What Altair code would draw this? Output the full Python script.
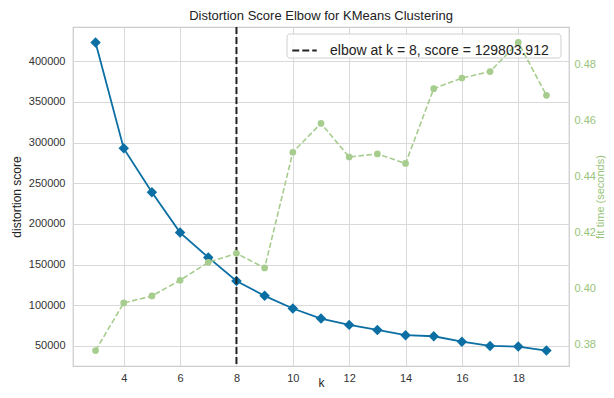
import altair as alt
import pandas as pd

k_values = list(range(3, 20))
distortion = [423000, 292800, 238900, 189300, 158800, 129803.912, 111600, 96000,
              83600, 75900, 69700, 63200, 61900, 55300, 50000, 49200, 44300]
fit_time = [0.3779, 0.3949, 0.3974, 0.4030, 0.4094, 0.4126, 0.4074, 0.4487,
            0.4590, 0.4470, 0.4481, 0.4447, 0.4714, 0.4752, 0.4775, 0.4879, 0.4690]
elbow_k = 8
elbow_score = 129803.912
x_ticks = [4, 6, 8, 10, 12, 14, 16, 18]
left_ticks = [50000, 100000, 150000, 200000, 250000, 300000, 350000, 400000]
right_ticks = [0.38, 0.40, 0.42, 0.44, 0.46, 0.48]

df = pd.DataFrame({"k": k_values, "distortion": distortion, "fit": fit_time})
label = f"elbow at k = {elbow_k}, score = {elbow_score:.3f}"
elbow_df = pd.DataFrame({"k": [elbow_k], "label": [label]})


def margin(vals, m=0.05):
    lo, hi = min(vals), max(vals)
    r = hi - lo
    return [lo - m * r, hi + m * r]


FONT = "Liberation Sans"
BLUE = "#0b6fa4"
GREEN = "#a6cd8d"
GREEN_TXT = "#98c47a"

xscale = alt.Scale(domain=margin(k_values), nice=False, zero=False)
x_axis = alt.Axis(values=x_ticks, title="k", grid=True, gridColor="#d9d9d9",
                  gridWidth=1, domain=False, ticks=False, labelPadding=6,
                  labelFontSize=11, labelFont=FONT, labelColor="#333333",
                  titleFont=FONT, titleFontSize=12, titleFontWeight="normal",
                  titleColor="#222222", titleY=20, titleBaseline="alphabetic")
left_scale = alt.Scale(domain=margin(distortion), nice=False, zero=False)
left_axis = alt.Axis(values=left_ticks, format="d", title="distortion score",
                     grid=True, gridColor="#d9d9d9", gridWidth=1, domain=False,
                     ticks=False, labelPadding=8, labelFontSize=11, labelFont=FONT,
                     labelColor="#333333", titleFont=FONT, titleFontSize=12,
                     titleFontWeight="normal", titleColor="#222222", titlePadding=5)
right_scale = alt.Scale(domain=margin(fit_time), nice=False, zero=False)
right_axis = alt.Axis(orient="right", values=right_ticks, format=".2f",
                      title="fit time (seconds)", grid=False, domain=False,
                      ticks=False, labelPadding=5, labelFontSize=11, labelFont=FONT,
                      labelColor=GREEN_TXT, titleFont=FONT, titleFontSize=11,
                      titleFontWeight="normal", titleColor=GREEN_TXT,
                      titleAngle=270, titleX=31, titleY=169.5,
                      titleAlign="center", titleBaseline="middle")

base = alt.Chart(df)

dist_line = base.mark_line(color=BLUE, strokeWidth=1.8).encode(
    x=alt.X("k:Q", scale=xscale, axis=x_axis),
    y=alt.Y("distortion:Q", scale=left_scale, axis=left_axis),
)
dist_pts = base.mark_point(shape="diamond", filled=True, color=BLUE, size=110,
                           opacity=1).encode(
    x=alt.X("k:Q", scale=xscale),
    y=alt.Y("distortion:Q", scale=left_scale),
)
elbow = alt.Chart(elbow_df).mark_rule(color="#222222", strokeWidth=2).encode(
    x=alt.X("k:Q", scale=xscale),
    strokeDash=alt.StrokeDash(
        "label:N",
        scale=alt.Scale(domain=[label], range=[[7, 3]]),
        legend=alt.Legend(title=None, orient="none", legendX=214, legendY=6,
                          symbolType="stroke", symbolStrokeColor="#222222",
                          symbolStrokeWidth=2, symbolSize=600, labelLimit=400,
                          labelOffset=12,
                          labelFont=FONT, labelFontSize=14, labelColor="#222222",
                          fillColor="rgba(255,255,255,0)", strokeColor="rgba(0,0,0,0)",
                          padding=4),
    ),
)
# legend frame, drawn beneath the fit-time layer (as in the reference)
legend_box = alt.Chart(elbow_df).mark_rect(
    fill="white", fillOpacity=0.85, stroke="#d0d0d0", strokeWidth=1, cornerRadius=3
).encode(x=alt.value(214), x2=alt.value(488), y=alt.value(7), y2=alt.value(31))

fit_line = base.mark_line(color=GREEN, strokeWidth=1.6, strokeDash=[5.5, 2.5]).encode(
    x=alt.X("k:Q", scale=xscale),
    y=alt.Y("fit:Q", scale=right_scale, axis=right_axis),
)
fit_pts = base.mark_circle(color=GREEN, size=45, opacity=1).encode(
    x=alt.X("k:Q", scale=xscale),
    y=alt.Y("fit:Q", scale=right_scale),
)

left = alt.layer(dist_line, dist_pts, elbow, legend_box)
right = alt.layer(fit_line, fit_pts)

chart = alt.layer(left, right).resolve_scale(y="independent").properties(
    width=496, height=339,
    autosize=alt.AutoSizeParams(type="none"),
    padding={"left": 65, "top": 19, "right": 37, "bottom": 24},
    title=alt.Title("Distortion Score Elbow for KMeans Clustering", font=FONT,
                    fontSize=13, fontWeight="normal", color="#222222", offset=3),
).configure_view(stroke="#cccccc", strokeWidth=1.25)

chart.save("out.html", embed_options={"renderer": "svg", "actions": False})
